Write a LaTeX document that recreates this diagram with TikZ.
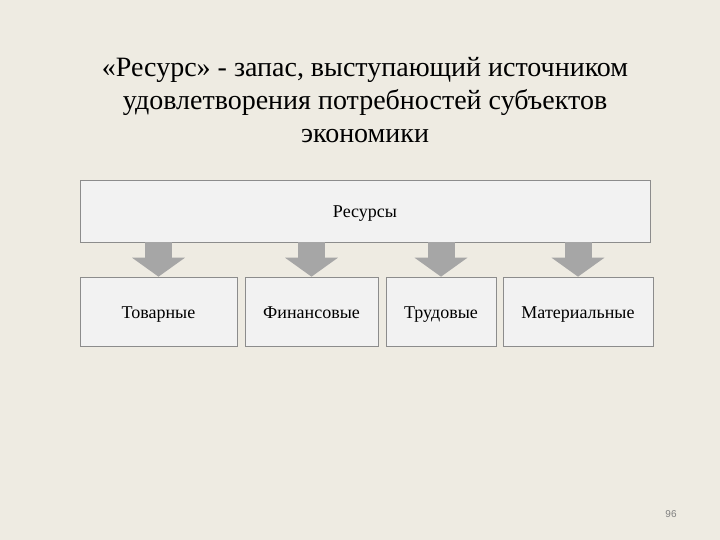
\documentclass[tikz,border=0pt]{standalone}
\usepackage{fontspec}
\setmainfont{Liberation Serif}
\setsansfont{Liberation Sans}
\usetikzlibrary{arrows.meta}
\definecolor{slidebg}{HTML}{EEEBE2}
\definecolor{boxfill}{HTML}{F2F2F2}
\definecolor{boxline}{HTML}{8C8C8C}
\definecolor{arrowfill}{HTML}{A6A6A6}
\begin{document}
\begin{tikzpicture}[x=1pt,y=-1pt]
    \tikzset{box/.style = {draw=boxline,fill=boxfill,line width=0.6pt,inner sep=0pt,text height=16pt,text depth=3pt,font=\fontsize{18}{21}\selectfont}, blockarrow/.style = {draw=arrowfill,line width=27pt,-{Triangle[length=19pt,width=52pt,fill=arrowfill]}}}
    \def\top{242}
    \def\row{311.5}
    \fill[slidebg] (0,0) rectangle (720,540);
    \node[align=center,font=\fontsize{28}{33}\selectfont] (title) at (365,100) {«Ресурс» - запас, выступающий источником\\удовлетворения потребностей субъектов\\экономики};
    \node[box,minimum width=570pt,minimum height=62pt] (res) at (365,211) {Ресурсы};
    \node[box,minimum width=157pt,minimum height=69pt] (tov) at (158.5,\row) {Товарные};
    \node[box,minimum width=133pt,minimum height=69pt] (fin) at (311.5,\row) {Финансовые};
    \node[box,minimum width=110pt,minimum height=69pt] (trud) at (441,\row) {Трудовые};
    \node[box,minimum width=150pt,minimum height=69pt] (mat) at (578,\row) {Материальные};
    \foreach \b in {tov,fin,trud,mat}
        \draw[blockarrow] (res.south -| \b.north) -- (\b.north);
    \node[font=\sffamily\fontsize{10}{12}\selectfont,text=gray] (page) at (671,514) {96};
\end{tikzpicture}
\end{document}
